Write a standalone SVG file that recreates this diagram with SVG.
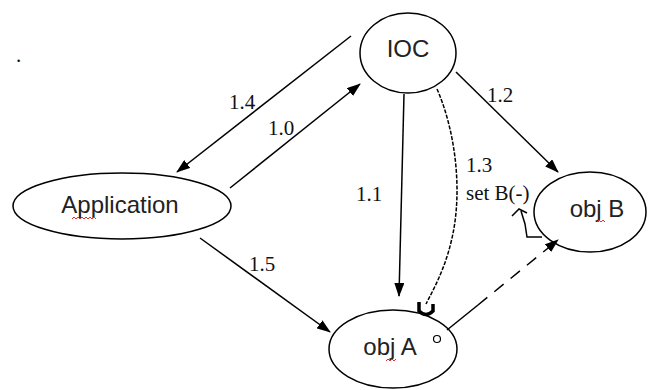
<svg xmlns="http://www.w3.org/2000/svg" width="653" height="390" viewBox="0 0 653 390">
<defs>
<marker id="ah" viewBox="0 0 14 10" refX="13" refY="5" markerWidth="14" markerHeight="10" markerUnits="userSpaceOnUse" orient="auto">
<path d="M0,0 L14,5 L0,10 Z" fill="#000"/>
</marker>
<style>
.node{fill:none;stroke:#000;stroke-width:1.5}
.nt{font-family:"Liberation Sans",Arial,sans-serif;font-size:24px;fill:#222;text-anchor:middle}
.lb{font-family:"Liberation Serif","Times New Roman",serif;font-size:21px;fill:#111}
.ln{fill:none;stroke:#000;stroke-width:1.5}
.sq{fill:none;stroke:#d33;stroke-width:1}
</style>
</defs>
<rect width="653" height="390" fill="#fff"/>
<text class="lb" x="16" y="62">.</text>
<g id="ioc">
<ellipse class="node" cx="408" cy="53" rx="48" ry="40"/>
<text class="nt" x="408" y="57">IOC</text>
</g>
<g id="application">
<ellipse class="node" cx="122" cy="206" rx="109" ry="33"/>
<text class="nt" x="120" y="213">Application</text>
<path class="sq" d="M72,219 l2,-2 l2,2 l2,-2 l2,2 l2,-2 l2,2 l2,-2 l2,2 l2,-2 l2,2 l2,-2 l2,2"/>
</g>
<g id="objB">
<ellipse class="node" cx="590" cy="212" rx="56" ry="40"/>
<text class="nt" x="597" y="217">obj B</text>
<path class="sq" d="M597,222 l2,-2 l2,2 l2,-2 l2,2"/>
</g>
<g id="objA">
<ellipse class="node" cx="393" cy="349" rx="64" ry="39"/>
<text class="nt" x="390" y="355">obj A</text>
<path class="sq" d="M386,361 l2,-2 l2,2 l2,-2 l2,2 l2,-2"/>
</g>
<g id="connectors">
<line class="ln" x1="351" y1="36" x2="177" y2="172" marker-end="url(#ah)"/>
<line class="ln" x1="230" y1="188" x2="360" y2="84" marker-end="url(#ah)"/>
<line class="ln" x1="456" y1="72" x2="558" y2="172" marker-end="url(#ah)"/>
<line class="ln" x1="404" y1="94" x2="399" y2="296" marker-end="url(#ah)"/>
<line class="ln" x1="200" y1="238" x2="330" y2="332" marker-end="url(#ah)"/>
<path class="ln" d="M437,89 C455,130 463,190 452,238 C445,270 432,292 426,304" stroke-dasharray="4,1.5"/>
<path d="M419,302 L419,311 Q426,318 433,311 L433,304" fill="none" stroke="#000" stroke-width="3.5"/>
<line class="ln" x1="447" y1="330" x2="478" y2="305"/>
<line class="ln" x1="478" y1="305" x2="558" y2="240" stroke-dasharray="12,9" marker-end="url(#ah)"/>
<circle cx="437" cy="339" r="3.5" fill="#fff" stroke="#000" stroke-width="1.2"/>
<path class="ln" d="M542,237 L527,237 L525,224 L521,211"/>
<path class="ln" d="M512,216 L519,209 L527,213"/>
<text class="lb" x="229" y="109">1.4</text>
<text class="lb" x="268" y="135">1.0</text>
<text class="lb" x="487" y="102">1.2</text>
<text class="lb" x="356" y="201">1.1</text>
<text class="lb" x="466" y="172">1.3</text>
<text class="lb" x="466" y="200">set B(-)</text>
<text class="lb" x="249" y="271">1.5</text>
</g>
</svg>
